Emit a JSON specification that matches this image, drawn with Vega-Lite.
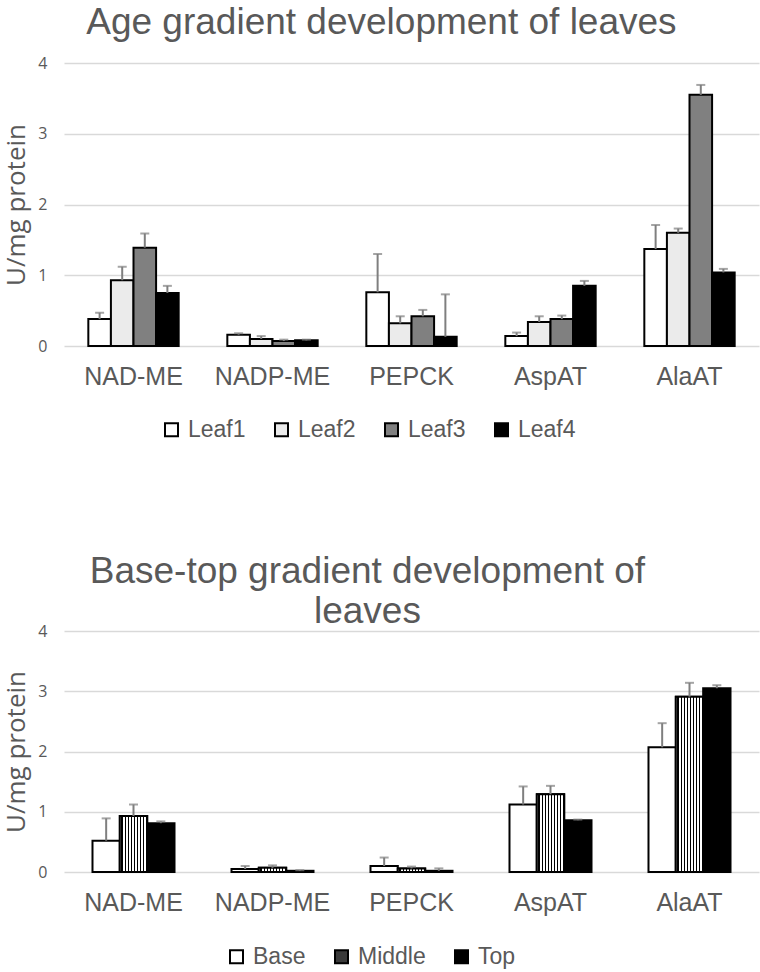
{
  "$schema": "https://vega.github.io/schema/vega-lite/v6.json",
  "padding": {"left": 3, "top": 4, "right": 2, "bottom": 0},
  "background": "white",
  "config": {
    "view": {"stroke": null},
    "font": "Liberation Sans",
    "title": {"fontSize": 37, "fontWeight": "normal", "color": "#595959", "font": "Liberation Sans", "anchor": "middle", "frame": "bounds"},
    "axisY": {"gridColor": "#d9d9d9", "gridWidth": 1.5, "domain": false, "ticks": false, "labelFont": "Open Sans", "labelFontSize": 16, "labelColor": "#595959", "labelPadding": 17, "titleFont": "Open Sans", "titleFontSize": 26, "titleFontWeight": "normal", "titleColor": "#595959", "titlePadding": 8},
    "axisX": {"domain": false, "ticks": false, "labelFont": "Liberation Sans", "labelFontSize": 25, "labelColor": "#595959", "labelPadding": 18, "title": null, "labelAngle": 0},
    "legend": {"labelFont": "Liberation Sans", "labelFontSize": 23, "labelColor": "#595959", "symbolType": "square", "symbolSize": 169, "symbolStrokeColor": "black", "symbolStrokeWidth": 2, "labelOffset": 5, "padding": 0, "title": null, "direction": "horizontal", "orient": "none"}
  },
  "datasets": {
    "age": [
      {"enzyme": "NAD-ME", "leaf": "Leaf1", "value": 0.38, "hi": 0.47},
      {"enzyme": "NAD-ME", "leaf": "Leaf2", "value": 0.93, "hi": 1.12},
      {"enzyme": "NAD-ME", "leaf": "Leaf3", "value": 1.39, "hi": 1.59},
      {"enzyme": "NAD-ME", "leaf": "Leaf4", "value": 0.75, "hi": 0.85},
      {"enzyme": "NADP-ME", "leaf": "Leaf1", "value": 0.16, "hi": 0.18},
      {"enzyme": "NADP-ME", "leaf": "Leaf2", "value": 0.10, "hi": 0.14},
      {"enzyme": "NADP-ME", "leaf": "Leaf3", "value": 0.07, "hi": 0.09},
      {"enzyme": "NADP-ME", "leaf": "Leaf4", "value": 0.08, "hi": 0.09},
      {"enzyme": "PEPCK", "leaf": "Leaf1", "value": 0.76, "hi": 1.30},
      {"enzyme": "PEPCK", "leaf": "Leaf2", "value": 0.32, "hi": 0.42},
      {"enzyme": "PEPCK", "leaf": "Leaf3", "value": 0.42, "hi": 0.51},
      {"enzyme": "PEPCK", "leaf": "Leaf4", "value": 0.13, "hi": 0.73},
      {"enzyme": "AspAT", "leaf": "Leaf1", "value": 0.14, "hi": 0.19},
      {"enzyme": "AspAT", "leaf": "Leaf2", "value": 0.34, "hi": 0.42},
      {"enzyme": "AspAT", "leaf": "Leaf3", "value": 0.38, "hi": 0.43},
      {"enzyme": "AspAT", "leaf": "Leaf4", "value": 0.85, "hi": 0.92},
      {"enzyme": "AlaAT", "leaf": "Leaf1", "value": 1.37, "hi": 1.71},
      {"enzyme": "AlaAT", "leaf": "Leaf2", "value": 1.60, "hi": 1.66},
      {"enzyme": "AlaAT", "leaf": "Leaf3", "value": 3.55, "hi": 3.69},
      {"enzyme": "AlaAT", "leaf": "Leaf4", "value": 1.04, "hi": 1.09}
    ],
    "zone": [
      {"enzyme": "NAD-ME", "part": "Base", "value": 0.52, "hi": 0.89},
      {"enzyme": "NAD-ME", "part": "Middle", "value": 0.93, "hi": 1.12},
      {"enzyme": "NAD-ME", "part": "Top", "value": 0.81, "hi": 0.84},
      {"enzyme": "NADP-ME", "part": "Base", "value": 0.05, "hi": 0.10},
      {"enzyme": "NADP-ME", "part": "Middle", "value": 0.07, "hi": 0.11},
      {"enzyme": "NADP-ME", "part": "Top", "value": 0.02, "hi": 0.03},
      {"enzyme": "PEPCK", "part": "Base", "value": 0.10, "hi": 0.24},
      {"enzyme": "PEPCK", "part": "Middle", "value": 0.06, "hi": 0.09},
      {"enzyme": "PEPCK", "part": "Top", "value": 0.02, "hi": 0.06},
      {"enzyme": "AspAT", "part": "Base", "value": 1.12, "hi": 1.42},
      {"enzyme": "AspAT", "part": "Middle", "value": 1.29, "hi": 1.43},
      {"enzyme": "AspAT", "part": "Top", "value": 0.86, "hi": 0.87},
      {"enzyme": "AlaAT", "part": "Base", "value": 2.07, "hi": 2.47},
      {"enzyme": "AlaAT", "part": "Middle", "value": 2.91, "hi": 3.14},
      {"enzyme": "AlaAT", "part": "Top", "value": 3.05, "hi": 3.10}
    ]
  },
  "vconcat": [
    {
      "title": {"text": "Age gradient development of leaves", "offset": 13},
      "width": 695,
      "height": 283,
      "data": {"name": "age"},
      "encoding": {
        "x": {"field": "enzyme", "type": "nominal", "sort": ["NAD-ME", "NADP-ME", "PEPCK", "AspAT", "AlaAT"], "scale": {"paddingInner": 0.35, "paddingOuter": 0.175}},
        "xOffset": {"field": "leaf", "type": "nominal", "sort": ["Leaf1", "Leaf2", "Leaf3", "Leaf4"], "scale": {"domain": ["Leaf1", "Leaf2", "Leaf3", "Leaf4"]}}
      },
      "layer": [
        {
          "mark": {"type": "bar", "stroke": "black", "strokeWidth": 2},
          "encoding": {
            "y": {"field": "value", "type": "quantitative", "scale": {"domain": [0, 4], "nice": false}, "axis": {"title": "U/mg protein", "values": [0, 1, 2, 3, 4], "format": "d"}},
            "fill": {"field": "leaf", "type": "nominal", "sort": ["Leaf1", "Leaf2", "Leaf3", "Leaf4"],
              "scale": {"domain": ["Leaf1", "Leaf2", "Leaf3", "Leaf4"], "range": ["#ffffff", "#ebebeb", "#808080", "#000000"]},
              "legend": {"legendX": 96, "legendY": 355, "columnPadding": 24}}
          }
        },
        {
          "mark": {"type": "rule", "color": "#7f7f7f", "strokeWidth": 2},
          "encoding": {"y": {"field": "value", "type": "quantitative"}, "y2": {"field": "hi"}}
        },
        {
          "mark": {"type": "tick", "color": "#7f7f7f", "thickness": 2, "size": 9},
          "encoding": {"y": {"field": "hi", "type": "quantitative"}}
        }
      ]
    },
    {
      "title": {"text": ["Base-top gradient development of", "leaves"], "offset": -8, "lineHeight": 40, "dx": -14},
      "width": 695,
      "height": 241,
      "data": {"name": "zone"},
      "encoding": {
        "x": {"field": "enzyme", "type": "nominal", "sort": ["NAD-ME", "NADP-ME", "PEPCK", "AspAT", "AlaAT"], "scale": {"paddingInner": 0.41, "paddingOuter": 0.205}},
        "xOffset": {"field": "part", "type": "nominal", "sort": ["Base", "Middle", "Top"], "scale": {"domain": ["Base", "Middle", "Top"]}}
      },
      "layer": [
        {
          "mark": {"type": "bar", "stroke": "black", "strokeWidth": 2},
          "encoding": {
            "y": {"field": "value", "type": "quantitative", "scale": {"domain": [0, 4], "nice": false}, "axis": {"title": "U/mg protein", "values": [0, 1, 2, 3, 4], "format": "d"}},
            "fill": {"field": "part", "type": "nominal", "sort": ["Base", "Middle", "Top"],
              "scale": {"domain": ["Base", "Middle", "Top"], "range": ["#ffffff", "#3a3a3a", "#000000"]},
              "legend": {"legendX": 161, "legendY": 314, "columnPadding": 24}}
          }
        },
        {
          "transform": [{"filter": "datum.part === 'Middle'"}],
          "mark": {"type": "bar", "stroke": "black", "strokeWidth": 2,
            "fill": {"gradient": "linear", "x1": 0, "y1": 0, "x2": 1, "y2": 0, "stops": [
                  {"offset": 0, "color": "white"}, {"offset": 0.061, "color": "white"}, {"offset": 0.061, "color": "black"}, {"offset": 0.111, "color": "black"}, {"offset": 0.111, "color": "white"},
                  {"offset": 0.172, "color": "white"}, {"offset": 0.172, "color": "black"}, {"offset": 0.222, "color": "black"}, {"offset": 0.222, "color": "white"},
                  {"offset": 0.283, "color": "white"}, {"offset": 0.283, "color": "black"}, {"offset": 0.333, "color": "black"}, {"offset": 0.333, "color": "white"},
                  {"offset": 0.394, "color": "white"}, {"offset": 0.394, "color": "black"}, {"offset": 0.444, "color": "black"}, {"offset": 0.444, "color": "white"},
                  {"offset": 0.506, "color": "white"}, {"offset": 0.506, "color": "black"}, {"offset": 0.556, "color": "black"}, {"offset": 0.556, "color": "white"},
                  {"offset": 0.617, "color": "white"}, {"offset": 0.617, "color": "black"}, {"offset": 0.667, "color": "black"}, {"offset": 0.667, "color": "white"},
                  {"offset": 0.728, "color": "white"}, {"offset": 0.728, "color": "black"}, {"offset": 0.778, "color": "black"}, {"offset": 0.778, "color": "white"},
                  {"offset": 0.839, "color": "white"}, {"offset": 0.839, "color": "black"}, {"offset": 0.889, "color": "black"}, {"offset": 0.889, "color": "white"},
                  {"offset": 0.95, "color": "white"}, {"offset": 0.95, "color": "black"}, {"offset": 1, "color": "black"}
            ]}},
          "encoding": {"y": {"field": "value", "type": "quantitative"}}
        },
        {
          "mark": {"type": "rule", "color": "#7f7f7f", "strokeWidth": 2},
          "encoding": {"y": {"field": "value", "type": "quantitative"}, "y2": {"field": "hi"}}
        },
        {
          "mark": {"type": "tick", "color": "#7f7f7f", "thickness": 2, "size": 9},
          "encoding": {"y": {"field": "hi", "type": "quantitative"}}
        }
      ]
    }
  ],
  "spacing": 111,
  "resolve": {"scale": {"fill": "independent", "x": "independent", "y": "independent", "xOffset": "independent"}, "legend": {"fill": "independent"}}
}
